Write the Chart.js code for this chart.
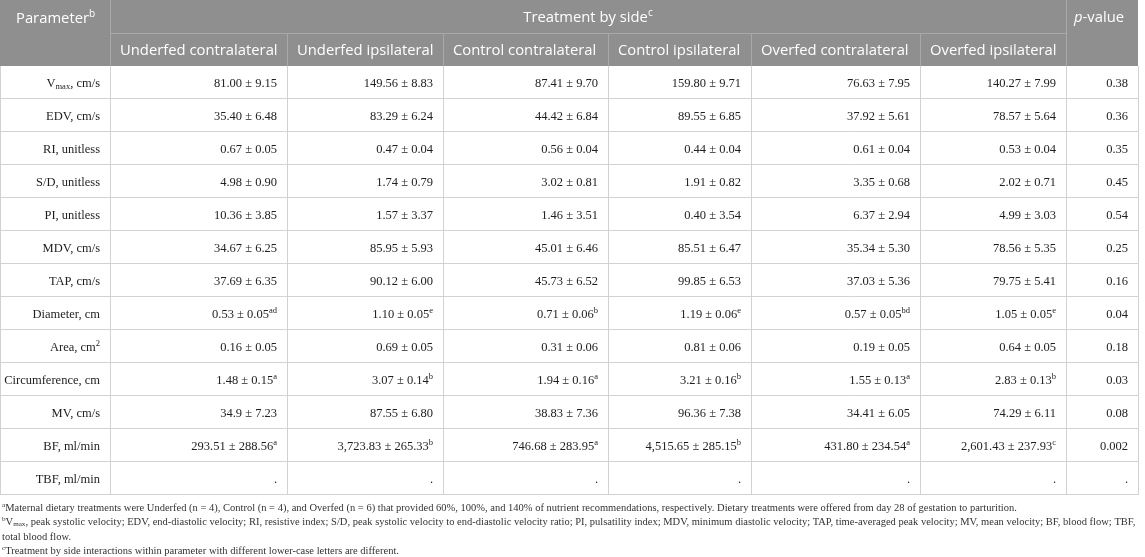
<!DOCTYPE html>
<html>
<head>
<meta charset="utf-8">
<script src="https://cdn.jsdelivr.net/npm/chart.js@4.4.1/dist/chart.umd.min.js"></script>
<style>
  html, body { margin: 0; padding: 0; background: #ffffff; }
  #wrap { width: 1145px; height: 557px; position: relative; }
</style>
</head>
<body>
<div id="wrap"><canvas id="c" width="1145" height="557"></canvas></div>
<script>
// ---------------- DATA ----------------
const tableTitle = 'Treatment by side^{c}';
const parameterHeader = 'Parameter^{b}';
const pHeader = '*p*-value';
const columns = ['Underfed contralateral', 'Underfed ipsilateral', 'Control contralateral',
                 'Control ipsilateral', 'Overfed contralateral', 'Overfed ipsilateral'];
const parameters = ['V_{max}, cm/s', 'EDV, cm/s', 'RI, unitless', 'S/D, unitless', 'PI, unitless',
                    'MDV, cm/s', 'TAP, cm/s', 'Diameter, cm', 'Area, cm^{2}', 'Circumference, cm',
                    'MV, cm/s', 'BF, ml/min', 'TBF, ml/min'];
const underfedContralateral = ['81.00 ± 9.15', '35.40 ± 6.48', '0.67 ± 0.05', '4.98 ± 0.90', '10.36 ± 3.85',
  '34.67 ± 6.25', '37.69 ± 6.35', '0.53 ± 0.05^{ad}', '0.16 ± 0.05', '1.48 ± 0.15^{a}', '34.9 ± 7.23',
  '293.51 ± 288.56^{a}', '.'];
const underfedIpsilateral = ['149.56 ± 8.83', '83.29 ± 6.24', '0.47 ± 0.04', '1.74 ± 0.79', '1.57 ± 3.37',
  '85.95 ± 5.93', '90.12 ± 6.00', '1.10 ± 0.05^{e}', '0.69 ± 0.05', '3.07 ± 0.14^{b}', '87.55 ± 6.80',
  '3,723.83 ± 265.33^{b}', '.'];
const controlContralateral = ['87.41 ± 9.70', '44.42 ± 6.84', '0.56 ± 0.04', '3.02 ± 0.81', '1.46 ± 3.51',
  '45.01 ± 6.46', '45.73 ± 6.52', '0.71 ± 0.06^{b}', '0.31 ± 0.06', '1.94 ± 0.16^{a}', '38.83 ± 7.36',
  '746.68 ± 283.95^{a}', '.'];
const controlIpsilateral = ['159.80 ± 9.71', '89.55 ± 6.85', '0.44 ± 0.04', '1.91 ± 0.82', '0.40 ± 3.54',
  '85.51 ± 6.47', '99.85 ± 6.53', '1.19 ± 0.06^{e}', '0.81 ± 0.06', '3.21 ± 0.16^{b}', '96.36 ± 7.38',
  '4,515.65 ± 285.15^{b}', '.'];
const overfedContralateral = ['76.63 ± 7.95', '37.92 ± 5.61', '0.61 ± 0.04', '3.35 ± 0.68', '6.37 ± 2.94',
  '35.34 ± 5.30', '37.03 ± 5.36', '0.57 ± 0.05^{bd}', '0.19 ± 0.05', '1.55 ± 0.13^{a}', '34.41 ± 6.05',
  '431.80 ± 234.54^{a}', '.'];
const overfedIpsilateral = ['140.27 ± 7.99', '78.57 ± 5.64', '0.53 ± 0.04', '2.02 ± 0.71', '4.99 ± 3.03',
  '78.56 ± 5.35', '79.75 ± 5.41', '1.05 ± 0.05^{e}', '0.64 ± 0.05', '2.83 ± 0.13^{b}', '74.29 ± 6.11',
  '2,601.43 ± 237.93^{c}', '.'];
const pValues = ['0.38', '0.36', '0.35', '0.45', '0.54', '0.25', '0.16', '0.04', '0.18', '0.03', '0.08', '0.002', '.'];
const footnotes = [
  '^{a}Maternal dietary treatments were Underfed (n = 4), Control (n = 4), and Overfed (n = 6) that provided 60%, 100%, and 140% of nutrient recommendations, respectively. Dietary treatments were offered from day 28 of gestation to parturition.',
  '^{b}V_{max}, peak systolic velocity; EDV, end-diastolic velocity; RI, resistive index; S/D, peak systolic velocity to end-diastolic velocity ratio; PI, pulsatility index; MDV, minimum diastolic velocity; TAP, time-averaged peak velocity; MV, mean velocity; BF, blood flow; TBF,',
  'total blood flow.',
  '^{c}Treatment by side interactions within parameter with different lower-case letters are different.'
];

// ---------------- LAYOUT / STYLE ----------------
const W = 1145, H = 557;
const colEdges = [0, 110, 287, 443, 608, 751, 920, 1066, 1138];
const headTop = 0, headMid = 33, headBottom = 66, tableBottom = 495;
const footY = [507, 521, 536, 550];
const headBg = '#8f8f8f', headLine = '#a9a9a9', gridLine = '#d2d2d2';
const headFont = '"Open Sans", "Noto Sans", sans-serif';
const bodyFont = '"Liberation Serif", "DejaVu Serif", serif';
const headSize = 14.8, bodySize = 12.5, footSize = 10.5;

function parseRich(s) {
  const segs = [];
  const re = /\^\{([^}]*)\}|_\{([^}]*)\}|\*([^*]*)\*/g;
  let last = 0, m;
  while ((m = re.exec(s)) !== null) {
    if (m.index > last) segs.push({ t: s.slice(last, m.index), k: 'n' });
    if (m[1] !== undefined) segs.push({ t: m[1], k: 'sup' });
    else if (m[2] !== undefined) segs.push({ t: m[2], k: 'sub' });
    else segs.push({ t: m[3], k: 'it' });
    last = re.lastIndex;
  }
  if (last < s.length) segs.push({ t: s.slice(last), k: 'n' });
  return segs;
}
function segFont(seg, f) {
  const small = seg.k === 'sup' || seg.k === 'sub';
  const sz = small ? f.size * 0.68 : f.size;
  const st = seg.k === 'it' ? 'italic ' : '';
  return st + sz + 'px ' + f.family;
}
function drawRich(ctx, s, x, cy, align, f) {
  const segs = parseRich(s);
  let total = 0;
  segs.forEach(seg => { ctx.font = segFont(seg, f); seg.w = ctx.measureText(seg.t).width; total += seg.w; });
  let cx = align === 'right' ? x - total : align === 'center' ? x - total / 2 : x;
  const base = cy + f.size * 0.34;
  ctx.fillStyle = f.color;
  ctx.textBaseline = 'alphabetic';
  ctx.textAlign = 'left';
  segs.forEach(seg => {
    ctx.font = segFont(seg, f);
    let y = base;
    if (seg.k === 'sup') y = base - f.size * 0.38;
    if (seg.k === 'sub') y = base + f.size * 0.18;
    ctx.fillText(seg.t, cx, y);
    cx += seg.w;
  });
}

const bodyColumns = [underfedContralateral, underfedIpsilateral, controlContralateral,
                     controlIpsilateral, overfedContralateral, overfedIpsilateral, pValues];

const tablePlugin = {
  id: 'tablePlugin',
  afterDraw(chart) {
    const ctx = chart.ctx;
    const xs = chart.scales.x, ys = chart.scales.y;
    const X = v => xs.getPixelForValue(v);
    const rowTop = i => ys.getPixelForValue(i - 0.5);
    const rowMid = i => ys.getPixelForValue(i);
    const left = X(colEdges[0]), right = X(colEdges[colEdges.length - 1]);
    const top = rowTop(0), bottom = rowTop(parameters.length);
    ctx.save();
    // header background
    ctx.fillStyle = headBg;
    ctx.fillRect(left, headTop, right - left, top - headTop);
    // header lines
    ctx.strokeStyle = headLine; ctx.lineWidth = 1;
    ctx.beginPath();
    ctx.moveTo(X(colEdges[1]) + 0.5, headTop); ctx.lineTo(X(colEdges[1]) + 0.5, top);
    ctx.moveTo(X(colEdges[7]) + 0.5, headTop); ctx.lineTo(X(colEdges[7]) + 0.5, top);
    ctx.moveTo(X(colEdges[1]), headMid + 0.5); ctx.lineTo(X(colEdges[7]), headMid + 0.5);
    for (let c = 2; c < 7; c++) { ctx.moveTo(X(colEdges[c]) + 0.5, headMid); ctx.lineTo(X(colEdges[c]) + 0.5, top); }
    ctx.stroke();
    // body grid
    ctx.strokeStyle = gridLine;
    ctx.beginPath();
    for (let i = 1; i <= parameters.length; i++) {
      const y = Math.round(rowTop(i)) - 0.5;
      ctx.moveTo(left, y); ctx.lineTo(right, y);
    }
    for (let c = 1; c < colEdges.length; c++) {
      const x = Math.round(X(colEdges[c])) + 0.5;
      ctx.moveTo(x, top); ctx.lineTo(x, bottom);
    }
    ctx.moveTo(left + 0.5, top); ctx.lineTo(left + 0.5, bottom);
    ctx.stroke();
    // header text
    const hf = { family: headFont, size: headSize, color: '#ffffff' };
    drawRich(ctx, parameterHeader, X(colEdges[0]) + 16, 18, 'left', hf);
    drawRich(ctx, tableTitle, (X(colEdges[1]) + X(colEdges[7])) / 2, 17, 'center', hf);
    drawRich(ctx, pHeader, X(colEdges[7]) + 8, 17, 'left', hf);
    columns.forEach((name, c) => drawRich(ctx, name, X(colEdges[c + 1]) + 10, 49.5, 'left', hf));
    // body text
    const bf = { family: bodyFont, size: bodySize, color: '#1e1e1e' };
    parameters.forEach((p, i) => {
      drawRich(ctx, p, X(colEdges[1]) - 10, rowMid(i), 'right', bf);
      bodyColumns.forEach((col, c) => drawRich(ctx, col[i], X(colEdges[c + 2]) - 10, rowMid(i), 'right', bf));
    });
    // footnotes
    const ff = { family: bodyFont, size: footSize, color: '#333333' };
    footnotes.forEach((t, k) => drawRich(ctx, t, 2, footY[k], 'left', ff));
    ctx.restore();
  }
};

new Chart(document.getElementById('c'), {
  type: 'scatter',
  data: { datasets: [] },
  options: {
    responsive: false,
    animation: false,
    devicePixelRatio: 1,
    layout: { padding: { top: headBottom, bottom: H - tableBottom, left: 0, right: 0 } },
    plugins: { legend: { display: false }, tooltip: { enabled: false } },
    scales: {
      x: { type: 'linear', min: 0, max: W, display: false },
      y: { type: 'category', labels: parameters, offset: true, display: false }
    }
  },
  plugins: [tablePlugin]
});
</script>
</body>
</html>
